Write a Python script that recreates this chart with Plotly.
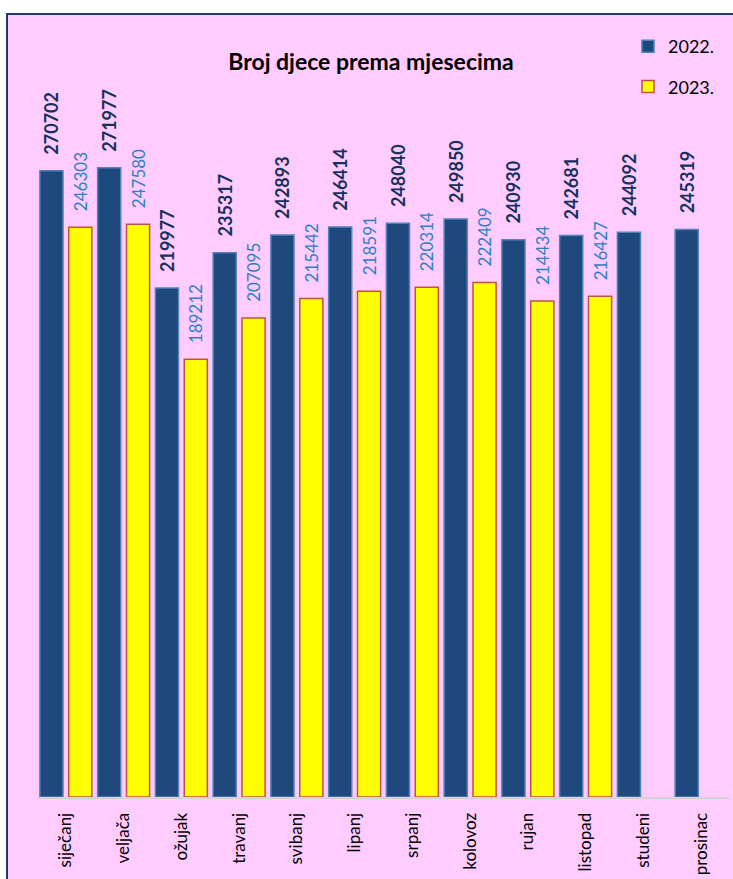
import plotly.graph_objects as go

months = ["siječanj", "veljača", "ožujak", "travanj", "svibanj", "lipanj",
          "srpanj", "kolovoz", "rujan", "listopad", "studeni", "prosinac"]
djeca_2022 = [270702, 271977, 219977, 235317, 242893, 246414,
              248040, 249850, 240930, 242681, 244092, 245319]
djeca_2023 = [246303, 247580, 189212, 207095, 215442, 218591,
              220314, 222409, 214434, 216427, None, None]

FONT = "Lato"
PINK = "#FFCCFF"
NAVY = "#1F497D"

def labels(values):
    # leading no-break spaces keep the rotated value clear of the bar top
    return ["\u00a0\u00a0\u00a0" + str(v) if v is not None else "" for v in values]

fig = go.Figure()
fig.add_trace(go.Bar(
    x=months, y=djeca_2022, name="2022.",
    marker=dict(color=NAVY, line=dict(color="#4F81BD", width=1.5)),
    text=labels(djeca_2022), textposition="outside", textangle=-90,
    textfont=dict(family=FONT, size=18, color="#17305C", weight="bold"),
    constraintext="none", cliponaxis=False, legendgroup="a",
))
fig.add_trace(go.Bar(
    x=months, y=djeca_2023, name="2023.",
    marker=dict(color="#FFFF00", line=dict(color="#C0504D", width=1.5)),
    text=labels(djeca_2023), textposition="outside", textangle=-90,
    textfont=dict(family=FONT, size=17, color="#2E80C6"),
    constraintext="none", cliponaxis=False, legendgroup="b",
))

# framed pink chart background
fig.add_shape(type="rect", xref="paper", yref="paper",
              x0=-0.0433, x1=1.03, y0=-0.2, y1=1.1282,
              fillcolor=PINK, line=dict(color="#1F3A6E", width=2), layer="below")

fig.update_layout(
    width=733, height=879,
    margin=dict(l=37, r=3, t=103, b=82, autoexpand=False),
    paper_bgcolor="white", plot_bgcolor="rgba(0,0,0,0)",
    barmode="group", bargap=0.0, bargroupgap=0.2,
    font=dict(family=FONT, color="black"),
    title=dict(text="<b>Broj djece prema mjesecima</b>",
               x=371 / 733, xanchor="center", xref="container",
               y=1 - 62 / 879, yanchor="middle", yref="container",
               font=dict(family=FONT, size=23, color="black")),
    legend=dict(xref="container", yref="container",
                x=628 / 733, xanchor="left", y=1 - 28 / 879, yanchor="top",
                bgcolor="rgba(0,0,0,0)", font=dict(family=FONT, size=18),
                tracegroupgap=14, itemwidth=30),
    xaxis=dict(tickangle=-90, tickfont=dict(family=FONT, size=17, color="black"),
               showline=True, linecolor="#D4D4D4", linewidth=2,
               ticks="", showgrid=False, ticklabelstandoff=7),
    yaxis=dict(range=[0, 300000], visible=False, showgrid=False),
)

fig.write_html("out.html")
